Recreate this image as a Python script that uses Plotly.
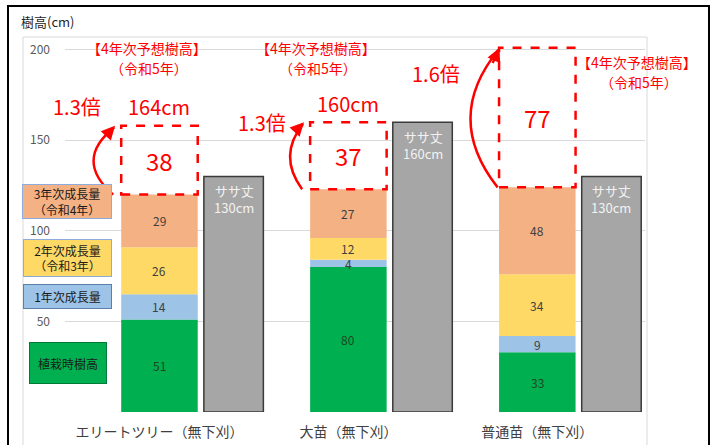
import plotly.graph_objects as go
import numpy as np

# ---- data ----
categories = ["エリートツリー（無下刈）", "大苗（無下刈）", "普通苗（無下刈）"]
planting = [51, 80, 33]        # 植栽時樹高
growth_y1 = [14, 4, 9]         # 1年次成長量
growth_y2 = [26, 12, 34]       # 2年次成長量（令和3年）
growth_y3 = [29, 27, 48]       # 3年次成長量（令和4年）
predicted_y4 = [38, 37, 77]    # 4年次予想成長量
predicted_total = ["164cm", "160cm", "206cm"]
multipliers = ["1.3倍", "1.3倍", "1.6倍"]
sasa_height = [130, 160, 130]  # ササ丈
y_ticks = [0, 50, 100, 150, 200]

FONT = "Noto Sans CJK JP"
RED = "#ff0000"
seg_colors = ["#00b050", "#9dc3e6", "#ffd966", "#f4b183"]
seg_names = ["植栽時樹高", "1年次成長量", "2年次成長量", "3年次成長量"]
seg_text_colors = ["#1e4620", "#404040", "#404040", "#404040"]

W, H = 712, 445
L, R, T, B = 65, 67, 37, 33
YMAX = 207
XR = [-0.5, 2.57]

x = np.arange(len(categories))
segs = np.array([planting, growth_y1, growth_y2, growth_y3], dtype=float)
bases = np.vstack([np.zeros(len(categories)), np.cumsum(segs, axis=0)[:-1]])
totals = segs.sum(axis=0)
pred = np.array(predicted_y4, dtype=float)

BW = 0.405
fig = go.Figure()
for k in range(4):
    fig.add_trace(go.Bar(x=x, y=segs[k], base=bases[k], width=BW, offset=-BW / 2,
                         marker=dict(color=seg_colors[k], line=dict(width=0)),
                         name=seg_names[k], showlegend=False, hoverinfo="y"))
G_OFF, G_W = 0.235, 0.315
fig.add_trace(go.Bar(x=x, y=sasa_height, base=0, width=G_W, offset=G_OFF,
                     marker=dict(color="#a6a6a6", line=dict(color="#3a3a3a", width=1.5)),
                     name="ササ丈", showlegend=False))

ann = []
shapes = []

# segment labels
for k in range(4):
    for i in range(len(categories)):
        ann.append(dict(x=x[i], y=bases[k][i] + segs[k][i] / 2, xref="x", yref="y",
                        xanchor="center", yanchor="middle",
                        text=str(int(segs[k][i])), showarrow=False,
                        font=dict(size=12, color=seg_text_colors[k], family=FONT)))

# sasa labels
for i in range(len(categories)):
    ann.append(dict(x=x[i] + G_OFF + G_W / 2, y=sasa_height[i], xref="x", yref="y",
                    xanchor="center", yanchor="top", yshift=-3, text=f"ササ丈<br>{sasa_height[i]}cm",
                    showarrow=False, font=dict(size=13, color="#f2f2f2", family=FONT)))

# predicted dashed boxes, arrows, labels
arrow_dx = [-0.245, -0.245, -0.21]
arrow_cx = [-0.455, -0.375, -0.5]
mult_dx = [-0.435, -0.455, -0.535]
mult_dy = [10.5, 0, -14]
for i in range(len(categories)):
    top = totals[i] + pred[i]
    shapes.append(dict(type="rect", xref="x", yref="y", x0=x[i] - BW / 2, x1=x[i] + BW / 2,
                       y0=totals[i], y1=top, line=dict(color=RED, width=2.5, dash="dash"),
                       fillcolor="rgba(0,0,0,0)"))
    ann.append(dict(x=x[i], y=totals[i] + pred[i] / 2, xref="x", yref="y",
                    xanchor="center", yanchor="middle",
                    text=str(int(pred[i])), showarrow=False,
                    font=dict(size=24, color=RED, family=FONT)))
    ann.append(dict(x=x[i], y=top + 10.5, xref="x", yref="y", text=predicted_total[i],
                    xanchor="center", yanchor="middle",
                    showarrow=False, font=dict(size=20, color=RED, family=FONT)))
    ann.append(dict(x=x[i] + mult_dx[i], y=top + mult_dy[i], xref="x", yref="y",
                    xanchor="center", yanchor="middle",
                    text=multipliers[i], showarrow=False,
                    font=dict(size=20, color=RED, family=FONT)))
    xa = x[i] + arrow_dx[i]
    cx = x[i] + arrow_cx[i]
    y0, y1 = totals[i], top
    cy = (y0 + y1) / 2
    shapes.append(dict(type="path", xref="x", yref="y",
                       path=f"M {xa},{y0} Q {cx},{cy} {xa + 0.005},{y1 - 1}",
                       line=dict(color=RED, width=2.5)))
    ann.append(dict(x=xa + 0.01, y=y1, xref="x", yref="y", axref="x", ayref="y",
                    ax=xa - 0.03, ay=y1 - 0.12 * (y1 - y0), text="", showarrow=True,
                    arrowhead=2, arrowsize=1.1, arrowwidth=2.5, arrowcolor=RED))

# helpers for paper coordinates
pw, ph = W - L - R, H - T - B
def px(v):
    return (v - L) / pw
def py(v):
    return (H - B - v) / ph

# 4年次予想樹高 headers
for cxp, cyp in [(147, 48), (316, 48), (637, 62)]:
    ann.append(dict(x=px(cxp), y=py(cyp), xref="paper", yref="paper", text="【4年次予想樹高】",
                    xanchor="center", yanchor="middle",
                    showarrow=False, font=dict(size=14, color=RED, family=FONT)))
    ann.append(dict(x=px(cxp + 2), y=py(cyp + 20), xref="paper", yref="paper", text="（令和5年）",
                    xanchor="center", yanchor="middle",
                    showarrow=False, font=dict(size=14, color=RED, family=FONT)))

# custom legend boxes
legend_items = [
    ("3年次成長量<br>（令和4年）", "#f4b183", "#8faadc", 22, 112, 184, 219),
    ("2年次成長量<br>（令和3年）", "#ffd966", "#8faadc", 23, 112, 239, 277),
    ("1年次成長量", "#9dc3e6", "#5b7fa8", 23, 112, 284, 309),
    ("植栽時樹高", "#00b050", "#007a38", 29, 107, 342, 384),
]
for txt, bg, bc, x0p, x1p, y0p, y1p in legend_items:
    ann.append(dict(x=px((x0p + x1p) / 2), y=py((y0p + y1p) / 2), xref="paper", yref="paper",
                    xanchor="center", yanchor="middle",
                    text=txt, showarrow=False, bgcolor=bg, bordercolor=bc, borderwidth=1,
                    borderpad=0, width=x1p - x0p - 2, height=y1p - y0p - 2,
                    font=dict(size=12, color="#1a1a1a", family=FONT)))

# axis title
ann.append(dict(x=px(19), y=py(22), xref="paper", yref="paper", xanchor="left", yanchor="middle",
                text="樹高(cm)", showarrow=False, font=dict(size=13, color="#262626", family=FONT)))

# borders
shapes.append(dict(type="rect", xref="paper", yref="paper", x0=px(8), x1=px(709), y0=py(460), y1=py(6),
                   line=dict(color="#000000", width=2), layer="above"))
shapes.append(dict(type="rect", xref="paper", yref="paper", x0=px(23), x1=px(647), y0=py(460), y1=py(37),
                   line=dict(color="#d9d9d9", width=1), layer="below"))

fig.update_layout(
    width=W, height=H, margin=dict(l=L, r=R, t=T, b=B),
    barmode="overlay", paper_bgcolor="white", plot_bgcolor="white",
    font=dict(family=FONT),
    xaxis=dict(range=XR, tickvals=list(x), ticktext=categories, showgrid=False, zeroline=False,
               tickfont=dict(size=14, color="#404040", family=FONT), showline=False, ticks="",
               ticklabelstandoff=10, fixedrange=True, automargin=False),
    yaxis=dict(range=[0, YMAX], tickvals=y_ticks, ticktext=["" if v == 0 else str(v) for v in y_ticks],
               showgrid=True, gridcolor="#d9d9d9", gridwidth=1, zeroline=False,
               tickfont=dict(size=12, color="#595959", family=FONT), ticks="",
               ticklabelstandoff=14, fixedrange=True, automargin=False),
    annotations=ann, shapes=shapes, showlegend=False,
)

fig.write_html("out.html")
